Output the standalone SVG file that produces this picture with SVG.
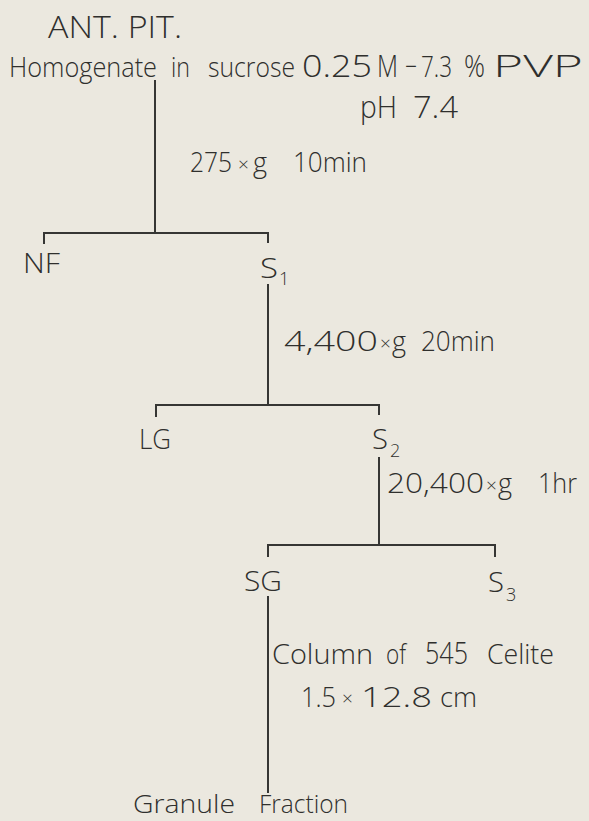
<svg xmlns="http://www.w3.org/2000/svg" width="589" height="821" viewBox="0 0 589 821">
<style>
  text{font-family:"Open Sans","Liberation Sans",sans-serif;font-weight:300;fill:#2f2f2d;font-size:27px}
  .big{font-size:31px}
  .mid{font-size:30px}
  .sub{font-size:18px}
  .sm{font-size:19px}
  .gr{font-size:26px}
  .ln{stroke:#363634;stroke-width:2;fill:none;stroke-linecap:square}
</style>
<rect x="0" y="0" width="589" height="821" fill="#ebe8df"/>
<g id="connectors">
  <path class="ln" d="M155 81 V233"/>
  <path class="ln" d="M44 243 V233 H268 V242"/>
  <path class="ln" d="M268 285 V405"/>
  <path class="ln" d="M156 416 V405 H379 V414"/>
  <path class="ln" d="M379 458 V545"/>
  <path class="ln" d="M268 556 V545 H495 V556"/>
  <path class="ln" d="M268 597 V792"/>
</g>
<g id="title">
  <text class="big" x="48" y="38" textLength="134" lengthAdjust="spacingAndGlyphs">ANT. PIT.</text>
</g>
<g id="homogenate">
  <text y="77"><tspan x="9" textLength="148" lengthAdjust="spacingAndGlyphs">Homogenate</tspan><tspan x="171" textLength="19" lengthAdjust="spacingAndGlyphs">in</tspan><tspan x="208" textLength="87" lengthAdjust="spacingAndGlyphs">sucrose</tspan><tspan class="big" x="302" textLength="70" lengthAdjust="spacingAndGlyphs">0.25</tspan><tspan class="big" x="377" textLength="21" lengthAdjust="spacingAndGlyphs">M</tspan><tspan class="big" x="405" textLength="12" lengthAdjust="spacingAndGlyphs">−</tspan><tspan class="mid" x="421" textLength="31" lengthAdjust="spacingAndGlyphs">7.3</tspan><tspan class="big" x="464" textLength="21" lengthAdjust="spacingAndGlyphs">%</tspan><tspan class="big" x="493" textLength="90" lengthAdjust="spacingAndGlyphs">PVP</tspan></text>
</g>
<g id="ph">
  <text class="big" y="118"><tspan x="360" textLength="37" lengthAdjust="spacingAndGlyphs">pH</tspan><tspan x="413" textLength="45" lengthAdjust="spacingAndGlyphs">7.4</tspan></text>
</g>
<g id="spin1">
  <text y="172"><tspan x="190" textLength="42" lengthAdjust="spacingAndGlyphs">275</tspan><tspan class="sm" x="238" dy="-1">×</tspan><tspan x="253" dy="1">g</tspan><tspan x="293" textLength="74" lengthAdjust="spacingAndGlyphs">10min</tspan></text>
</g>
<g id="NF"><text x="23" y="273" textLength="37" lengthAdjust="spacingAndGlyphs">NF</text></g>
<g id="S1"><text x="260" y="278"><tspan textLength="18" lengthAdjust="spacingAndGlyphs">S</tspan><tspan class="sub" x="279" dy="7">1</tspan></text></g>
<g id="spin2">
  <text y="351"><tspan x="284" textLength="94" lengthAdjust="spacingAndGlyphs">4,400</tspan><tspan class="sm" x="380" dy="-1">×</tspan><tspan x="392" dy="1">g</tspan><tspan x="421" textLength="74" lengthAdjust="spacingAndGlyphs">20min</tspan></text>
</g>
<g id="LG"><text x="139" y="449" textLength="32" lengthAdjust="spacingAndGlyphs">LG</text></g>
<g id="S2"><text x="372" y="449"><tspan textLength="16" lengthAdjust="spacingAndGlyphs">S</tspan><tspan class="sub" x="390" dy="8">2</tspan></text></g>
<g id="spin3">
  <text y="493"><tspan x="387" textLength="97" lengthAdjust="spacingAndGlyphs">20,400</tspan><tspan class="sm" x="486" dy="-1">×</tspan><tspan x="498" dy="1">g</tspan><tspan x="538" textLength="39" lengthAdjust="spacingAndGlyphs">1hr</tspan></text>
</g>
<g id="SG"><text x="244" y="591" textLength="38" lengthAdjust="spacingAndGlyphs">SG</text></g>
<g id="S3"><text x="488" y="592"><tspan textLength="16" lengthAdjust="spacingAndGlyphs">S</tspan><tspan class="sub" x="506" dy="9">3</tspan></text></g>
<g id="column">
  <text y="664"><tspan x="272" textLength="101" lengthAdjust="spacingAndGlyphs">Column</tspan><tspan x="386" textLength="20" lengthAdjust="spacingAndGlyphs">of</tspan><tspan class="big" x="425" textLength="43" lengthAdjust="spacingAndGlyphs">545</tspan><tspan x="487" textLength="67" lengthAdjust="spacingAndGlyphs">Celite</tspan></text>
  <text y="707"><tspan x="301" textLength="35" lengthAdjust="spacingAndGlyphs">1.5</tspan><tspan class="sm" x="342" dy="-2">×</tspan><tspan x="361" dy="2" textLength="71" lengthAdjust="spacingAndGlyphs">12.8</tspan><tspan x="440" textLength="37" lengthAdjust="spacingAndGlyphs">cm</tspan></text>
</g>
<g id="granule">
  <text class="gr" y="813"><tspan x="133" textLength="102" lengthAdjust="spacingAndGlyphs">Granule</tspan><tspan x="259" textLength="89" lengthAdjust="spacingAndGlyphs">Fraction</tspan></text>
</g>
</svg>
